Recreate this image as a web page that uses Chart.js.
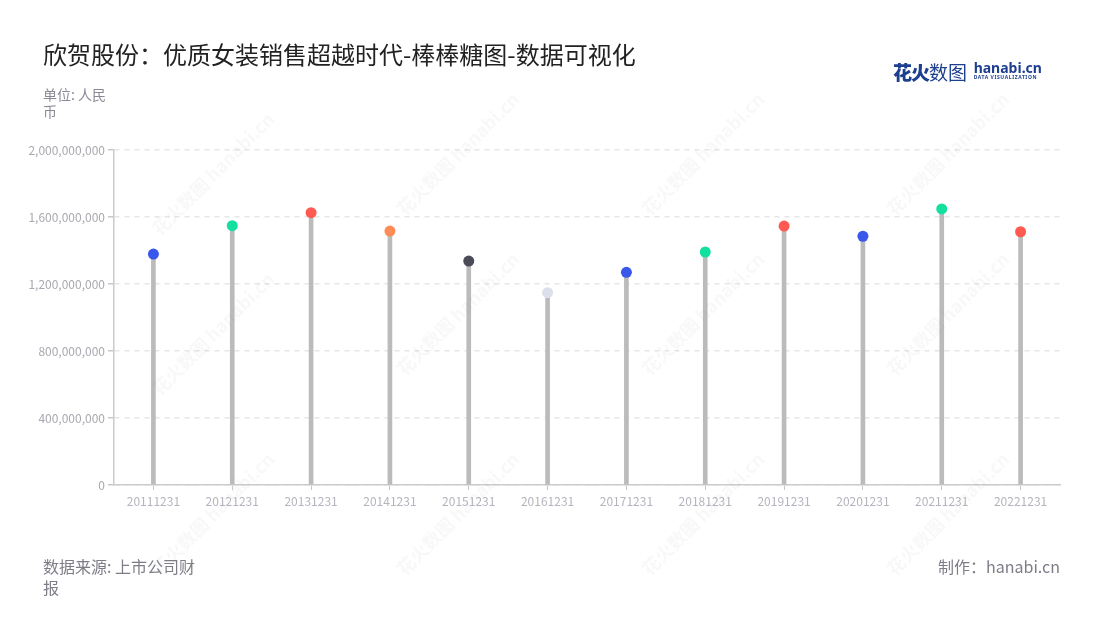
<!DOCTYPE html>
<html>
<head>
<meta charset="utf-8">
<script src="https://cdn.jsdelivr.net/npm/chart.js@4.4.1/dist/chart.umd.min.js"></script>
<style>
  html, body { margin:0; padding:0; background:#fff; }
  #wrap { position:relative; width:1100px; height:620px; overflow:hidden; font-family:"Noto Sans CJK SC","Noto Sans",sans-serif; }
  #c { position:absolute; left:0; top:0; }
  .t { position:absolute; white-space:normal; }
  #title { left:43px; top:36px; font-size:24px; color:#222; white-space:nowrap; }
  #unit { left:43px; top:86px; width:72px; font-size:14px; line-height:17px; color:#8a8a96; }
  #src { left:43px; top:556px; width:160px; font-size:16px; line-height:21px; color:#7d7d88; }
  #made { right:40px; top:556px; font-size:16px; line-height:21px; color:#7d7d88; white-space:nowrap; }
  #logo { left:893px; top:58px; white-space:nowrap; }
  .wm { position:absolute; transform:rotate(-45deg); color:rgba(150,150,160,0.07); font-weight:bold; font-size:18px; white-space:nowrap; pointer-events:none; }
</style>
</head>
<body>
<div id="wrap">
  <canvas id="c" width="1100" height="620"></canvas>
  <div class="t" id="title">欣贺股份：优质女装销售超越时代-棒棒糖图-数据可视化</div>
  <div class="t" id="unit">单位: 人民币</div>
  <div class="t" id="src">数据来源: 上市公司财报</div>
  <div class="t" id="made">制作：hanabi.cn</div>
  <div class="t" id="logo">
    <span style="font-size:19px;font-weight:900;color:#1d3f8f;letter-spacing:-1px;">花火</span><span style="font-size:19px;color:#1d3f8f;">数图</span>
    <span style="display:inline-block;vertical-align:top;margin-left:3px;line-height:1;">
      <span style="display:block;font-family:'Noto Sans',sans-serif;font-size:14px;font-weight:bold;color:#1d3f8f;margin-top:3px;">hanabi.cn</span>
      <span style="display:block;font-family:'Noto Sans',sans-serif;font-size:5px;font-weight:bold;color:#1d3f8f;letter-spacing:0.6px;">DATA VISUALIZATION</span>
    </span>
  </div>
</div>
<script>
const categories = ["20111231","20121231","20131231","20141231","20151231","20161231","20171231","20181231","20191231","20201231","20211231","20221231"];
const revenue = [1379000000, 1548000000, 1626000000, 1516000000, 1337000000, 1148000000, 1270000000, 1391000000, 1546000000, 1485000000, 1648000000, 1512000000];
const dotColors = ["#3a57ec","#13df9f","#ff5a52","#ff8c55","#4b4b58","#dce0ea","#3a57ec","#13df9f","#ff5a52","#3a57ec","#13df9f","#ff5a52"];
const yTicks = [0, 400000000, 800000000, 1200000000, 1600000000, 2000000000];

// watermarks
const wrap = document.getElementById('wrap');
const wmPos = [[130,160],[375,140],[620,140],[865,140],[130,320],[375,300],[620,300],[865,300],[130,500],[375,500],[620,500],[865,500]];
wmPos.forEach(p => {
  const d = document.createElement('div');
  d.className = 'wm';
  d.style.left = p[0] + 'px';
  d.style.top = p[1] + 'px';
  d.textContent = '花火数图 hanabi.cn';
  wrap.appendChild(d);
});

const tickFont = { family: '"Noto Sans CJK SC","Noto Sans",sans-serif', size: 12 };
new Chart(document.getElementById('c'), {
  type: 'bar',
  data: {
    labels: categories,
    datasets: [
      {
        type: 'line',
        data: revenue,
        showLine: false,
        pointRadius: 5.5,
        pointHoverRadius: 5.5,
        pointBorderWidth: 0,
        pointBackgroundColor: dotColors,
        pointBorderColor: dotColors,
        order: 0
      },
      {
        type: 'bar',
        data: revenue,
        backgroundColor: '#bbbbbb',
        barThickness: 4,
        order: 1
      }
    ]
  },
  options: {
    responsive: false,
    animation: false,
    layout: { padding: { left: 0, right: 40, top: 150, bottom: 105 } },
    plugins: { legend: { display: false }, tooltip: { enabled: false } },
    scales: {
      x: {
        afterFit: s => { s.height = 30; },
        grid: { drawOnChartArea: false, drawTicks: true, tickLength: 5, offset: false, color: '#c8c8c8' },
        border: { color: '#cccccc', width: 1.5 },
        ticks: { color: '#b4b4be', font: tickFont, padding: 4, maxRotation: 0, autoSkip: false }
      },
      y: {
        min: 0, max: 2000000000,
        afterFit: s => { s.width = 114; },
        afterBuildTicks: s => { s.ticks = yTicks.map(v => ({ value: v })); },
        grid: { color: '#e6e6e6', tickColor: '#c8c8c8', tickLength: 6, lineWidth: 1.5 },
        border: { color: '#cccccc', width: 1.5, dash: [5, 5] },
        ticks: { color: '#a8a8b0', font: tickFont, padding: 3, callback: v => Number(v).toLocaleString('en-US') }
      }
    }
  }
});
</script>
</body>
</html>
